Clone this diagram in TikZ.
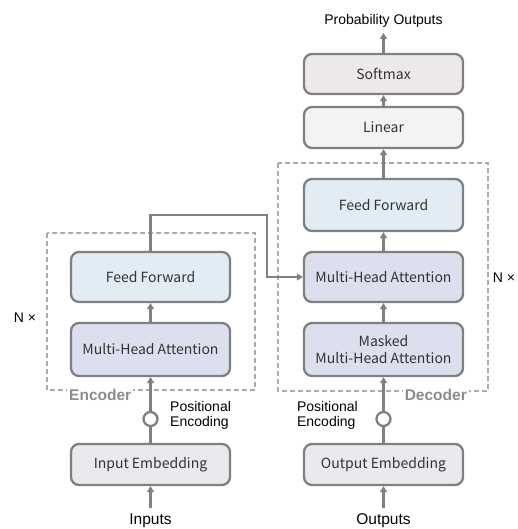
\documentclass[tikz,border=0pt]{standalone}
\usepackage{fontspec}
\setmainfont{Liberation Sans}
\newfontfamily\boxfont{Noto Sans CJK JP}
\usetikzlibrary{arrows.meta}
\definecolor{ffc}{HTML}{E2ECF5}
\definecolor{mhac}{HTML}{DCDFEE}
\definecolor{smc}{HTML}{EDE9EA}
\definecolor{linc}{HTML}{F3F3F3}
\definecolor{embc}{HTML}{E8EAEE}
\definecolor{edgec}{HTML}{808080}
\definecolor{dashc}{HTML}{ABABAB}
\definecolor{labc}{HTML}{8C8C8C}
\tikzset{
  blk/.style={draw=edgec, line width=2.3pt, rounded corners=8pt, minimum width=159pt, inner sep=0pt, align=center, font=\boxfont\fontsize{14}{17}\selectfont, text=black!80},
  conn/.style={draw=edgec, line width=2.3pt, -{Triangle[width=7pt,length=6pt]}},
  plain/.style={draw=edgec, line width=2.3pt},
  frame/.style={draw=dashc, line width=1.5pt, dash pattern=on 5pt off 3pt},
  lab/.style={font=\fontsize{14}{15}\selectfont, text=black, inner sep=0pt},
  grp/.style={font=\bfseries\fontsize{15.5}{16}\selectfont, text=labc, fill=white, inner sep=2pt},
  pe/.style={circle, draw=edgec, line width=2.3pt, fill=white, minimum size=14pt, inner sep=0pt}
}
\begin{document}
\begin{tikzpicture}[x=1pt,y=-1pt]
\useasboundingbox (0,0) rectangle (518,529);
% frames
\draw[frame] (47,233) rectangle (255,390);
\draw[frame] (278,163) rectangle (488,391);
\node[grp, anchor=west] (enclab) at (67,395) {Encoder};
\node[grp, anchor=east] (declab) at (469,395) {Decoder};
\node[lab] (nl) at (25,318) {N ×};
\node[lab] (nr) at (504,278) {N ×};
% encoder
\node[blk, fill=ffc, minimum height=50pt] (eff) at (150.5,277) {Feed Forward};
\node[blk, fill=mhac, minimum height=53pt] (emha) at (150.5,349.5) {Multi-Head Attention};
\node[blk, fill=embc, minimum height=41pt] (eemb) at (150.5,464.5) {Input Embedding};
\node[pe] (epe) at (150.5,419) {};
\node[lab, align=left, anchor=west] (epet) at (170,415.5) {Positional\\Encoding};
\node[lab, font=\fontsize{15.5}{16}\selectfont] (inp) at (150.5,521) {Inputs};
% decoder
\node[blk, fill=smc, minimum height=40pt] (sm) at (383.5,74) {Softmax};
\node[blk, fill=linc, minimum height=41pt] (lin) at (383.5,127.5) {Linear};
\node[blk, fill=ffc, minimum height=52pt] (dff) at (383.5,205) {Feed Forward};
\node[blk, fill=mhac, minimum height=50pt] (dmha) at (383.5,277) {Multi-Head Attention};
\node[blk, fill=mhac, minimum height=53pt] (mmha) at (383.5,349.5) {Masked\\Multi-Head Attention};
\node[blk, fill=embc, minimum height=41pt] (demb) at (383.5,464.5) {Output Embedding};
\node[pe] (dpe) at (383.5,419) {};
\node[lab, align=left, anchor=east] (dpet) at (358,415.5) {Positional\\Encoding};
\node[lab, font=\fontsize{15.5}{16}\selectfont] (outp) at (383.5,521) {Outputs};
\node[lab] (prob) at (383.5,21) {Probability Outputs};
\coordinate (probin) at (383.5,33);
\coordinate (inpout) at (150.5,508);
\coordinate (outpout) at (383.5,508);
% encoder connectors
\draw[conn] (inpout) -- (eemb.south);
\draw[plain] (eemb.north) -- (epe.south);
\draw[conn] (epe.north) -- (emha.south);
\draw[conn] (emha.north) -- (eff.south);
\coordinate (c1) at (150.5,215);
\coordinate (c2) at (267,215);
\coordinate (c3) at (267,277);
\draw[conn] (eff.north) -- (c1) -- (c2) -- (c3) -- (dmha.west);
% decoder connectors
\draw[conn] (outpout) -- (demb.south);
\draw[plain] (demb.north) -- (dpe.south);
\draw[conn] (dpe.north) -- (mmha.south);
\draw[conn] (mmha.north) -- (dmha.south);
\draw[conn] (dmha.north) -- (dff.south);
\draw[conn] (dff.north) -- (lin.south);
\draw[conn] (lin.north) -- (sm.south);
\draw[conn] (sm.north) -- (probin);
\end{tikzpicture}
\end{document}
